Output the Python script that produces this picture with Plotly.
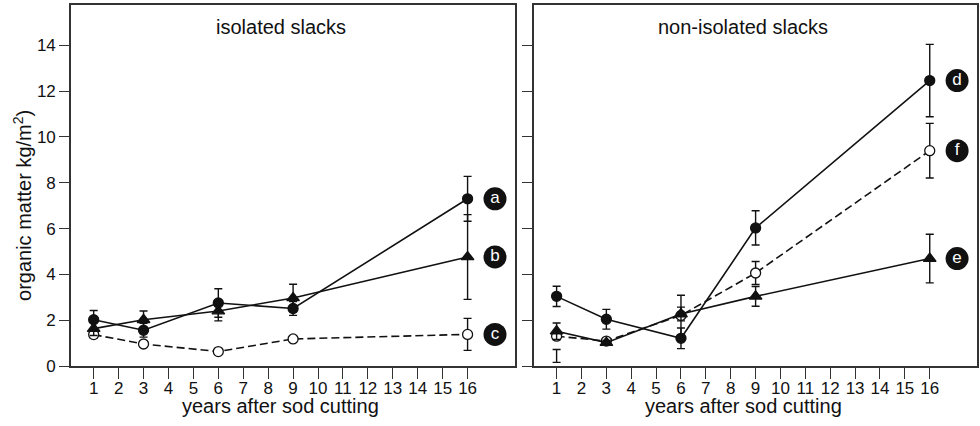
import plotly.graph_objects as go
from plotly.subplots import make_subplots

years = [1, 3, 6, 9, 16]
tick_years = list(range(1, 17))

# isolated slacks
a_vals = [2.02, 1.56, 2.75, 2.51, 7.30]
a_err = [0.40, 0.30, 0.62, 0.30, 0.98]
b_vals = [1.63, 2.02, 2.40, 2.97, 4.76]
b_err = [0.30, 0.38, 0.43, 0.60, 1.85]
c_vals = [1.37, 0.96, 0.63, 1.18, 1.38]
c_err = [0.15, 0.10, 0.10, 0.10, 0.70]

# non-isolated slacks
d_vals = [3.04, 2.04, 1.21, 6.03, 12.46]
d_err = [0.44, 0.43, 0.45, 0.75, 1.58]
e_vals = [1.52, 1.02, 2.27, 3.04, 4.69]
e_err = [0.36, 0.10, 0.30, 0.43, 1.06]
f_vals = [1.30, 1.09, 2.21, 4.06, 9.40]
f_err = [0.10, 0.10, 0.88, 0.50, 1.19]
# stray error bar below f at year 1
stray_x = [1]
stray_y = [0.44]
stray_err = [0.28]

panel_titles = ['isolated slacks', 'non-isolated slacks']
label_x = 17.1

FONT = 'Liberation Sans, Arial, sans-serif'
INK = '#111111'
FRAME = '#333333'

fig = make_subplots(rows=1, cols=2, horizontal_spacing=0.021)


def add_series(vals, errs, col, symbol, dash, fill):
    fig.add_trace(go.Scatter(
        x=years, y=vals, mode='lines+markers',
        line=dict(color=INK, width=1.6, dash=dash),
        marker=dict(symbol=symbol, size=11 if 'triangle' in symbol else 10,
                    color=fill, line=dict(color=INK, width=1.3)),
        error_y=dict(type='data', array=errs, visible=True,
                     color=INK, thickness=1.4, width=4),
        showlegend=False
    ), row=1, col=col)


add_series(c_vals, c_err, 1, 'circle', '8px,4px', 'white')
add_series(b_vals, b_err, 1, 'triangle-up', 'solid', INK)
add_series(a_vals, a_err, 1, 'circle', 'solid', INK)

fig.add_trace(go.Scatter(
    x=stray_x, y=stray_y, mode='markers', marker=dict(size=1, opacity=0),
    error_y=dict(type='data', array=stray_err, visible=True,
                 color=INK, thickness=1.4, width=4),
    showlegend=False
), row=1, col=2)
add_series(f_vals, f_err, 2, 'circle', '8px,4px', 'white')
add_series(e_vals, e_err, 2, 'triangle-up', 'solid', INK)
add_series(d_vals, d_err, 2, 'circle', 'solid', INK)

# letter badges next to the last points
for col, letters, series in [(1, ['a', 'b', 'c'], [a_vals, b_vals, c_vals]),
                             (2, ['d', 'e', 'f'], [d_vals, e_vals, f_vals])]:
    fig.add_trace(go.Scatter(
        x=[label_x] * len(letters), y=[s[-1] for s in series],
        mode='markers+text', text=letters, textposition='middle center',
        textfont=dict(color='white', size=17, family=FONT),
        marker=dict(size=23, color=INK),
        showlegend=False, cliponaxis=False
    ), row=1, col=col)

for col in (1, 2):
    fig.update_xaxes(
        range=[0.09, 17.9], tickvals=tick_years, ticks='outside', ticklen=11,
        tickwidth=1.4, tickcolor=FRAME, showline=True, linecolor=FRAME,
        linewidth=1.6, mirror=True, showgrid=False, zeroline=False,
        ticklabelstandoff=-5,
        tickfont=dict(size=17, color=INK, family=FONT), row=1, col=col)
    fig.update_yaxes(
        range=[0, 15.76], tickvals=[0, 2, 4, 6, 8, 10, 12, 14], ticks='outside',
        ticklen=10, tickwidth=1.4, tickcolor=FRAME, showline=True,
        linecolor=FRAME, linewidth=1.6, mirror=True, showgrid=False,
        zeroline=False, showticklabels=(col == 1),
        tickfont=dict(size=17, color=INK, family=FONT), row=1, col=col)

fig.update_xaxes(domain=[0.0, 0.49], row=1, col=1)
fig.update_xaxes(domain=[0.511, 1.0], row=1, col=2)

for i, title in enumerate(panel_titles):
    xref = 'x' if i == 0 else 'x2'
    yref = 'y' if i == 0 else 'y2'
    fig.add_annotation(x=8.5, y=14.8, xref=xref, yref=yref, text=title,
                       showarrow=False, xanchor='center', yanchor='middle',
                       font=dict(size=20, color=INK, family=FONT))
    fig.add_annotation(x=8.5, y=-0.11, xref=xref, yref='paper',
                       text='years after sod cutting', showarrow=False,
                       xanchor='center', yanchor='middle',
                       font=dict(size=20, color=INK, family=FONT))

fig.add_annotation(x=-0.053, y=0.446, xref='paper', yref='paper',
                   text='organic matter kg/m<sup>2</sup>)', textangle=-90,
                   showarrow=False, xanchor='center', yanchor='middle',
                   font=dict(size=20, color=INK, family=FONT))

fig.update_layout(
    width=980, height=426,
    margin=dict(l=71, r=1, t=5, b=60),
    paper_bgcolor='white', plot_bgcolor='white',
    font=dict(family=FONT, color=INK),
    showlegend=False
)

fig.write_html('out.html', config={'displayModeBar': False},
               post_script="document.body.style.margin='0';")
